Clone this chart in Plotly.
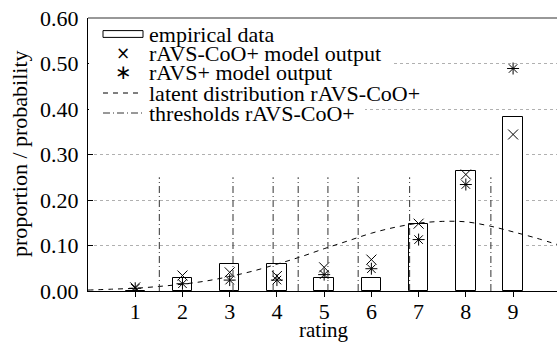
import plotly.graph_objects as go

# ---- data ----
ratings = [1, 2, 3, 4, 5, 6, 7, 8, 9]
empirical = [0.0, 0.0294, 0.0588, 0.0588, 0.0294, 0.0294, 0.1471, 0.2647, 0.3824]
ravs_coo_plus = [0.008, 0.034, 0.041, 0.033, 0.052, 0.069, 0.148, 0.256, 0.344]
ravs_plus = [0.006, 0.016, 0.024, 0.024, 0.036, 0.049, 0.113, 0.234, 0.489]

latent_x = [0, 0.5, 1, 1.5, 2, 2.5, 3, 3.5, 4, 4.5, 5, 5.5, 6, 6.5, 7, 7.5, 8, 8.5, 9, 9.5, 10]
latent_y = [0.002, 0.004, 0.006, 0.010, 0.015, 0.022, 0.032, 0.044, 0.059, 0.075, 0.093,
            0.110, 0.127, 0.140, 0.149, 0.153, 0.152, 0.143, 0.130, 0.116, 0.100]

thresholds = [1.51, 3.07, 3.92, 4.45, 5.08, 5.72, 6.81, 8.53]
threshold_top = 0.25

yticks = [0.0, 0.1, 0.2, 0.3, 0.4, 0.5, 0.6]
ytick_labels = ["0.00", "0.10", "0.20", "0.30", "0.40", "0.50", "0.60"]

legend_labels = ["empirical data", "rAVS-CoO+ model output", "rAVS+ model output",
                 "latent distribution rAVS-CoO+", "thresholds rAVS-CoO+"]

FONT = "Liberation Serif"
FS = 22

# ---- layout geometry (pixels of the 557x344 picture) ----
W, H = 557, 344
L, R, T, B = 88, 557, 18, 291


def px(x):
    return (x - L) / (R - L)


def py(y):
    return (B - y) / (B - T)


DASH_LATENT = "5px,5px"
DASH_THR = "7px,3px,1px,3px"

fig = go.Figure()

fig.add_trace(go.Bar(
    x=ratings, y=empirical, width=0.41, name=legend_labels[0],
    marker=dict(color="white", line=dict(color="black", width=1)),
))
fig.add_trace(go.Scatter(
    x=ratings, y=ravs_coo_plus, mode="markers", name=legend_labels[1],
    marker=dict(symbol="x-thin-open", size=10, color="black", line=dict(color="black", width=1)),
))
fig.add_trace(go.Scatter(
    x=ratings, y=ravs_plus, mode="markers", name=legend_labels[2],
    marker=dict(symbol="asterisk-open", size=10, color="black", line=dict(color="black", width=1)),
))
fig.add_trace(go.Scatter(
    x=latent_x, y=latent_y, mode="lines", name=legend_labels[3],
    line=dict(color="black", width=1, dash=DASH_LATENT, shape="spline"),
))
tx, ty = [], []
for t in thresholds:
    tx += [t, t, None]
    ty += [0, threshold_top, None]
fig.add_trace(go.Scatter(
    x=tx, y=ty, mode="lines", name=legend_labels[4],
    line=dict(color="#333333", width=1, dash=DASH_THR),
))

# ---- hand-built legend (tight row spacing like the reference) ----
row_y = [34, 53.5, 73, 93, 113]
sym_x0, sym_x1, sym_xc, text_x = 103, 143, 123, 148

shapes = [
    dict(type="line", xref="paper", yref="paper", x0=0, x1=1, y0=1, y1=1,
         line=dict(color="#333333", width=1.2)),
    dict(type="rect", xref="paper", yref="paper", x0=px(89), x1=px(392), y0=py(68), y1=py(58),
         fillcolor="white", line=dict(width=0), layer="above"),
    dict(type="rect", xref="paper", yref="paper", x0=px(89), x1=px(365), y0=py(114), y1=py(104),
         fillcolor="white", line=dict(width=0), layer="above"),
    dict(type="rect", xref="paper", yref="paper", x0=px(sym_x0), x1=px(sym_x1),
         y0=py(row_y[0] + 3.4), y1=py(row_y[0] - 3.4),
         fillcolor="white", line=dict(color="black", width=1), layer="above"),
    dict(type="line", xref="paper", yref="paper", x0=px(sym_x0), x1=px(sym_x1),
         y0=py(row_y[3]), y1=py(row_y[3]),
         line=dict(color="black", width=1, dash=DASH_LATENT), layer="above"),
    dict(type="line", xref="paper", yref="paper", x0=px(sym_x0), x1=px(sym_x1),
         y0=py(row_y[4]), y1=py(row_y[4]),
         line=dict(color="#333333", width=1, dash=DASH_THR), layer="above"),
]

annotations = []
for lbl, yy in zip(legend_labels, row_y):
    annotations.append(dict(
        text=lbl, xref="paper", yref="paper", x=px(text_x), y=py(yy),
        xanchor="left", yanchor="middle", showarrow=False, borderpad=0,
        font=dict(family=FONT, size=FS, color="black"),
    ))
annotations.append(dict(
    text="×", xref="paper", yref="paper", x=px(sym_xc), y=py(row_y[1] - 1),
    xanchor="center", yanchor="middle", showarrow=False,
    font=dict(family="DejaVu Sans", size=17, color="black"),
))
annotations.append(dict(
    text="∗", xref="paper", yref="paper", x=px(sym_xc), y=py(row_y[2] - 1),
    xanchor="center", yanchor="middle", showarrow=False,
    font=dict(family="DejaVu Sans", size=20, color="black"),
))
annotations.append(dict(
    text="rating", xref="paper", yref="paper", x=px(323), y=py(330),
    xanchor="center", yanchor="middle", showarrow=False, borderpad=0,
    font=dict(family=FONT, size=21, color="black"),
))
annotations.append(dict(
    text="proportion / probability", xref="paper", yref="paper", x=px(19), y=py(154),
    xanchor="center", yanchor="middle", showarrow=False, textangle=-90,
    font=dict(family=FONT, size=FS, color="black"),
))

fig.update_layout(
    width=W, height=H,
    margin=dict(l=L, r=W - R, t=T, b=H - B, autoexpand=False),
    paper_bgcolor="white", plot_bgcolor="white",
    font=dict(family=FONT, size=FS, color="black"),
    showlegend=False,
    bargap=0,
    shapes=shapes,
    annotations=annotations,
)
fig.update_xaxes(
    range=[0, 9.93], tickvals=ratings, ticktext=[str(r) for r in ratings],
    ticks="outside", ticklen=5, tickcolor="black",
    showline=True, linecolor="black", linewidth=1,
    showgrid=False, zeroline=False, automargin=False, ticklabelstandoff=-4,
    tickfont=dict(family=FONT, size=FS),
)
fig.update_yaxes(
    range=[0, 0.6], tickvals=yticks, ticktext=ytick_labels,
    ticks="inside", ticklen=5, tickcolor="black",
    showline=True, linecolor="black", linewidth=1,
    showgrid=True, gridcolor="#b0b0b0", griddash="dot", gridwidth=1,
    zeroline=False, automargin=False, ticklabelstandoff=4,
    ticklabeloverflow="allow",
    tickfont=dict(family=FONT, size=FS),
)

# remove the page's default 8px body margin so the figure sits at the window's corner
fig.write_html("out.html", config={"displayModeBar": False},
               post_script="document.body.style.margin='0';")
